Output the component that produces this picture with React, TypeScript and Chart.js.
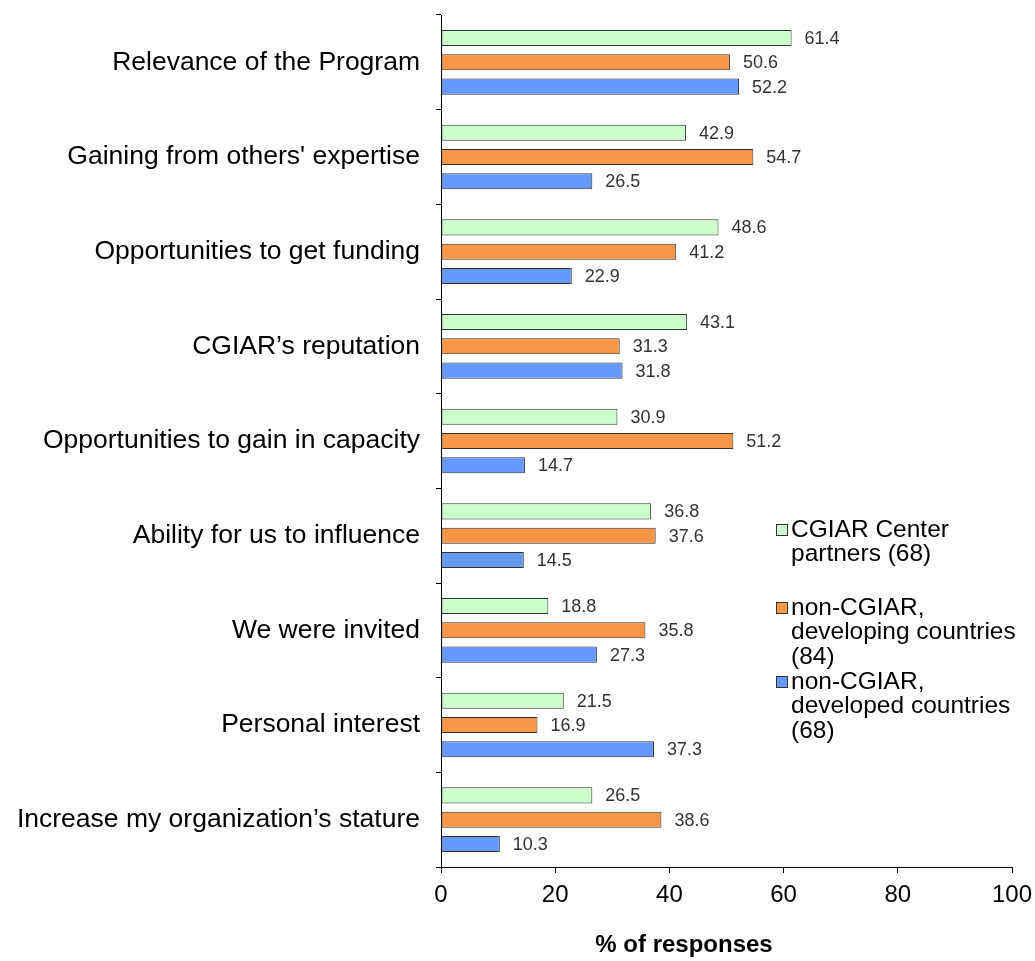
import React, { useEffect, useRef } from "react";
import { Chart, registerables } from "chart.js";

Chart.register(...registerables);

const categories = [
  "Relevance of the Program",
  "Gaining from others' expertise",
  "Opportunities to get funding",
  "CGIAR\u2019s reputation",
  "Opportunities to gain in capacity",
  "Ability for us to influence",
  "We were invited",
  "Personal interest",
  "Increase my organization\u2019s stature",
];

const cgiarPartners = [61.4, 42.9, 48.6, 43.1, 30.9, 36.8, 18.8, 21.5, 26.5];
const nonCgiarDeveloping = [50.6, 54.7, 41.2, 31.3, 51.2, 37.6, 35.8, 16.9, 38.6];
const nonCgiarDeveloped = [52.2, 26.5, 22.9, 31.8, 14.7, 14.5, 27.3, 37.3, 10.3];

const seriesLabels = [
  ["CGIAR Center", "partners (68)"],
  ["non-CGIAR,", "developing countries", "(84)"],
  ["non-CGIAR,", "developed countries", "(68)"],
];

const xTicks = [0, 20, 40, 60, 80, 100];
const xTitle = "% of responses";

const FONT = "'Liberation Sans', Arial, sans-serif";

const valueLabelPlugin = {
  id: "valueLabels",
  afterDatasetsDraw(chart: any) {
    const ctx = chart.ctx;
    ctx.save();
    ctx.font = `18px ${FONT}`;
    ctx.fillStyle = "#333";
    ctx.textAlign = "left";
    ctx.textBaseline = "middle";
    chart.data.datasets.forEach((ds: any, di: number) => {
      const meta = chart.getDatasetMeta(di);
      meta.data.forEach((el: any, i: number) => {
        ctx.fillText(ds.data[i].toFixed(1), el.x + 13, el.y + 1);
      });
    });
    ctx.restore();
  },
};

const customLegendPlugin = {
  id: "customLegend",
  afterDraw(chart: any) {
    const ctx = chart.ctx;
    ctx.save();
    ctx.font = `24.5px ${FONT}`;
    ctx.textAlign = "left";
    ctx.textBaseline = "middle";
    const x0 = 776;
    const tops = [530, 608, 682];
    const lineH = 24.5;
    chart.data.datasets.forEach((ds: any, di: number) => {
      const y = tops[di];
      ctx.fillStyle = ds.backgroundColor;
      ctx.strokeStyle = "#333";
      ctx.lineWidth = 1;
      ctx.fillRect(x0 + 0.5, y - 5.5, 11, 11);
      ctx.strokeRect(x0 + 0.5, y - 5.5, 11, 11);
      ctx.fillStyle = "#000";
      (ds.legendLines as string[]).forEach((line, li) => {
        ctx.fillText(line, x0 + 15, y + li * lineH);
      });
    });
    // x-axis title
    ctx.font = `bold 24px ${FONT}`;
    ctx.textAlign = "center";
    ctx.fillText(xTitle, 684, 945);
    ctx.restore();
  },
};

export default function App() {
  const ref = useRef<HTMLCanvasElement>(null);

  useEffect(() => {
    if (!ref.current) return;
    const mk = (data: number[], bg: string, lines: string[]) => ({
      label: lines.join(" "),
      legendLines: lines,
      data,
      backgroundColor: bg,
      borderColor: "#333",
      borderWidth: 1,
      borderSkipped: false,
      categoryPercentage: 0.77,
      barPercentage: 0.66,
    });
    const chart = new Chart(ref.current, {
      type: "bar",
      data: {
        labels: categories,
        datasets: [
          mk(cgiarPartners, "#CCFFCC", seriesLabels[0]),
          mk(nonCgiarDeveloping, "#F79646", seriesLabels[1]),
          mk(nonCgiarDeveloped, "#6699FF", seriesLabels[2]),
        ] as any,
      },
      options: {
        indexAxis: "y",
        responsive: false,
        animation: false,
        layout: { padding: { top: 15, right: 23, bottom: 0, left: 0 } },
        plugins: {
          legend: { display: false },
          tooltip: { enabled: false },
        },
        scales: {
          x: {
            min: 0,
            max: 100,
            afterBuildTicks(scale: any) {
              scale.ticks = xTicks.map((v) => ({ value: v }));
            },
            afterFit(scale: any) {
              scale.height = 94;
              scale.paddingLeft = 0;
              scale.paddingRight = 0;
            },
            grid: {
              display: true,
              drawOnChartArea: false,
              drawTicks: true,
              tickLength: 6,
              color: "#000",
            },
            border: { display: true, color: "#000", width: 1 },
            ticks: {
              color: "#000",
              padding: 8,
              font: { family: FONT, size: 24 },
              maxRotation: 0,
            },
            title: { display: false, text: xTitle },
          },
          y: {
            afterFit(scale: any) {
              scale.width = 441;
              scale.paddingTop = 0;
              scale.paddingBottom = 0;
            },
            grid: {
              display: true,
              offset: true,
              drawOnChartArea: false,
              drawTicks: true,
              tickLength: 5,
              color: "#000",
            },
            border: { display: true, color: "#000", width: 1 },
            ticks: {
              color: "#000",
              padding: 16,
              font: { family: FONT, size: 26.5 },
            },
          },
        },
      },
      plugins: [valueLabelPlugin, customLegendPlugin],
    } as any);
    return () => chart.destroy();
  }, []);

  return (
    <div style={{ position: "absolute", left: 0, top: 0, width: 1035, height: 961, background: "#fff" }}>
      <canvas ref={ref} width={1035} height={961} />
    </div>
  );
}
